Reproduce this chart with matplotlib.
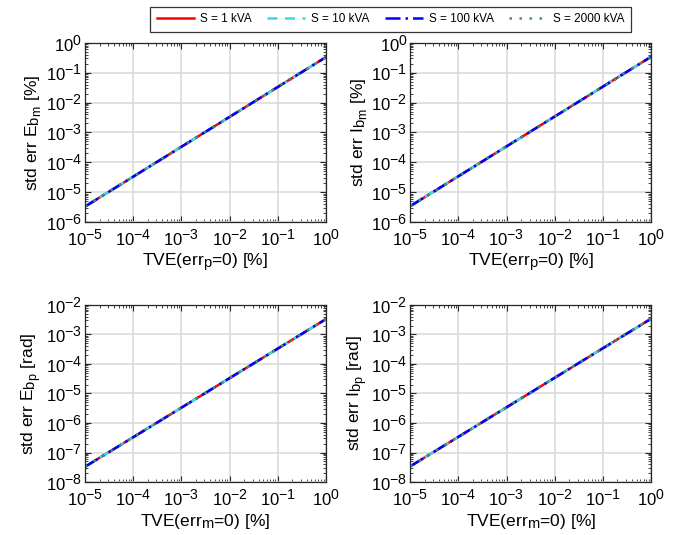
import numpy as np
import matplotlib
matplotlib.use("Agg")
import matplotlib.pyplot as plt
import matplotlib._mathtext as mt
from matplotlib.ticker import LogLocator, NullFormatter

# larger sub/superscripts, closer to the original look
mt.SHRINK_FACTOR = 0.85

plt.rcParams['font.family'] = ['Liberation Sans', 'DejaVu Sans']
plt.rcParams['mathtext.fontset'] = 'custom'
plt.rcParams['mathtext.rm'] = 'Liberation Sans'
plt.rcParams['mathtext.it'] = 'Liberation Sans:italic'
plt.rcParams['mathtext.bf'] = 'Liberation Sans:bold'

# TVE values [%]
tve = [1e-5, 1e-4, 1e-3, 1e-2, 1e-1, 1e0]

# standard error curves (all ratings overlap)
err_Ebm = [3.3e-6, 3.3e-5, 3.3e-4, 3.3e-3, 3.3e-2, 0.33]
err_Ibm = [3.4e-6, 3.4e-5, 3.4e-4, 3.4e-3, 3.4e-2, 0.34]
err_Ebp = [3.3e-8, 3.3e-7, 3.3e-6, 3.3e-5, 3.3e-4, 3.3e-3]
err_Ibp = [3.4e-8, 3.4e-7, 3.4e-6, 3.4e-5, 3.4e-4, 3.4e-3]

ratings = ['S = 1 kVA', 'S = 10 kVA', 'S = 100 kVA', 'S = 2000 kVA']
colors = ['#ff0000', '#33dde6', '#0000ff', '#3d9966']
styles = ['-', (0, (4, 3)), (0, (6, 2, 1, 2)), (0, (1, 3))]

panels = [
    (err_Ebm, r'std err E$_{\mathregular{b}_\mathregular{m}}$ [%]', r'TVE(err$_\mathregular{p}$=0) [%]', (1e-6, 1e0)),
    (err_Ibm, r'std err I$_{\mathregular{b}_\mathregular{m}}$ [%]', r'TVE(err$_\mathregular{p}$=0) [%]', (1e-6, 1e0)),
    (err_Ebp, r'std err E$_{\mathregular{b}_\mathregular{p}}$ [rad]', r'TVE(err$_\mathregular{m}$=0) [%]', (1e-8, 1e-2)),
    (err_Ibp, r'std err I$_{\mathregular{b}_\mathregular{p}}$ [rad]', r'TVE(err$_\mathregular{m}$=0) [%]', (1e-8, 1e-2)),
]

positions = [
    [0.124, 0.585, 0.351, 0.335],
    [0.598, 0.585, 0.351, 0.335],
    [0.124, 0.099, 0.351, 0.331],
    [0.598, 0.099, 0.351, 0.331],
]

fig = plt.figure(figsize=(6.86, 5.35), dpi=100)

handles = []
for (yvals, ylab, xlab, ylim), pos in zip(panels, positions):
    ax = fig.add_axes(pos)
    hs = []
    for lab, c, ls in zip(ratings, colors, styles):
        h, = ax.loglog(tve, yvals, color=c, linestyle=ls, linewidth=1.8, label=lab)
        hs.append(h)
    handles = hs
    ax.set_xlim(1e-5, 1e0)
    ax.set_ylim(*ylim)
    ax.xaxis.set_major_locator(LogLocator(base=10, numticks=10))
    ax.yaxis.set_major_locator(LogLocator(base=10, numticks=10))
    ax.xaxis.set_minor_locator(LogLocator(base=10, subs=np.arange(2, 10), numticks=10))
    ax.yaxis.set_minor_locator(LogLocator(base=10, subs=np.arange(2, 10), numticks=10))
    ax.xaxis.set_minor_formatter(NullFormatter())
    ax.yaxis.set_minor_formatter(NullFormatter())
    ax.grid(True, which='major', color='#dcdcdc', linewidth=1.2)
    ax.set_axisbelow(True)
    ax.tick_params(which='both', direction='in', top=True, right=True, colors='#262626', labelcolor='black')
    ax.tick_params(which='major', length=4, labelsize=12)
    ax.tick_params(axis='x', which='major', pad=5)
    ax.tick_params(axis='y', which='major', pad=2)
    ax.tick_params(which='minor', length=2)
    for sp in ax.spines.values():
        sp.set_color('#262626')
        sp.set_linewidth(0.9)
    ax.set_xlabel(xlab, fontsize=12.5, labelpad=2)
    ax.set_ylabel(ylab, fontsize=12.5, labelpad=1)

leg = fig.legend(handles=handles, labels=ratings, loc='upper center', ncol=4,
                 bbox_to_anchor=(0.569, 0.998), fontsize=8.5, frameon=True,
                 fancybox=False, edgecolor='black', handlelength=3.2,
                 columnspacing=1.3, handletextpad=0.5, borderpad=0.55)
leg.get_frame().set_linewidth(0.9)

fig.savefig('out.png', dpi=100)
